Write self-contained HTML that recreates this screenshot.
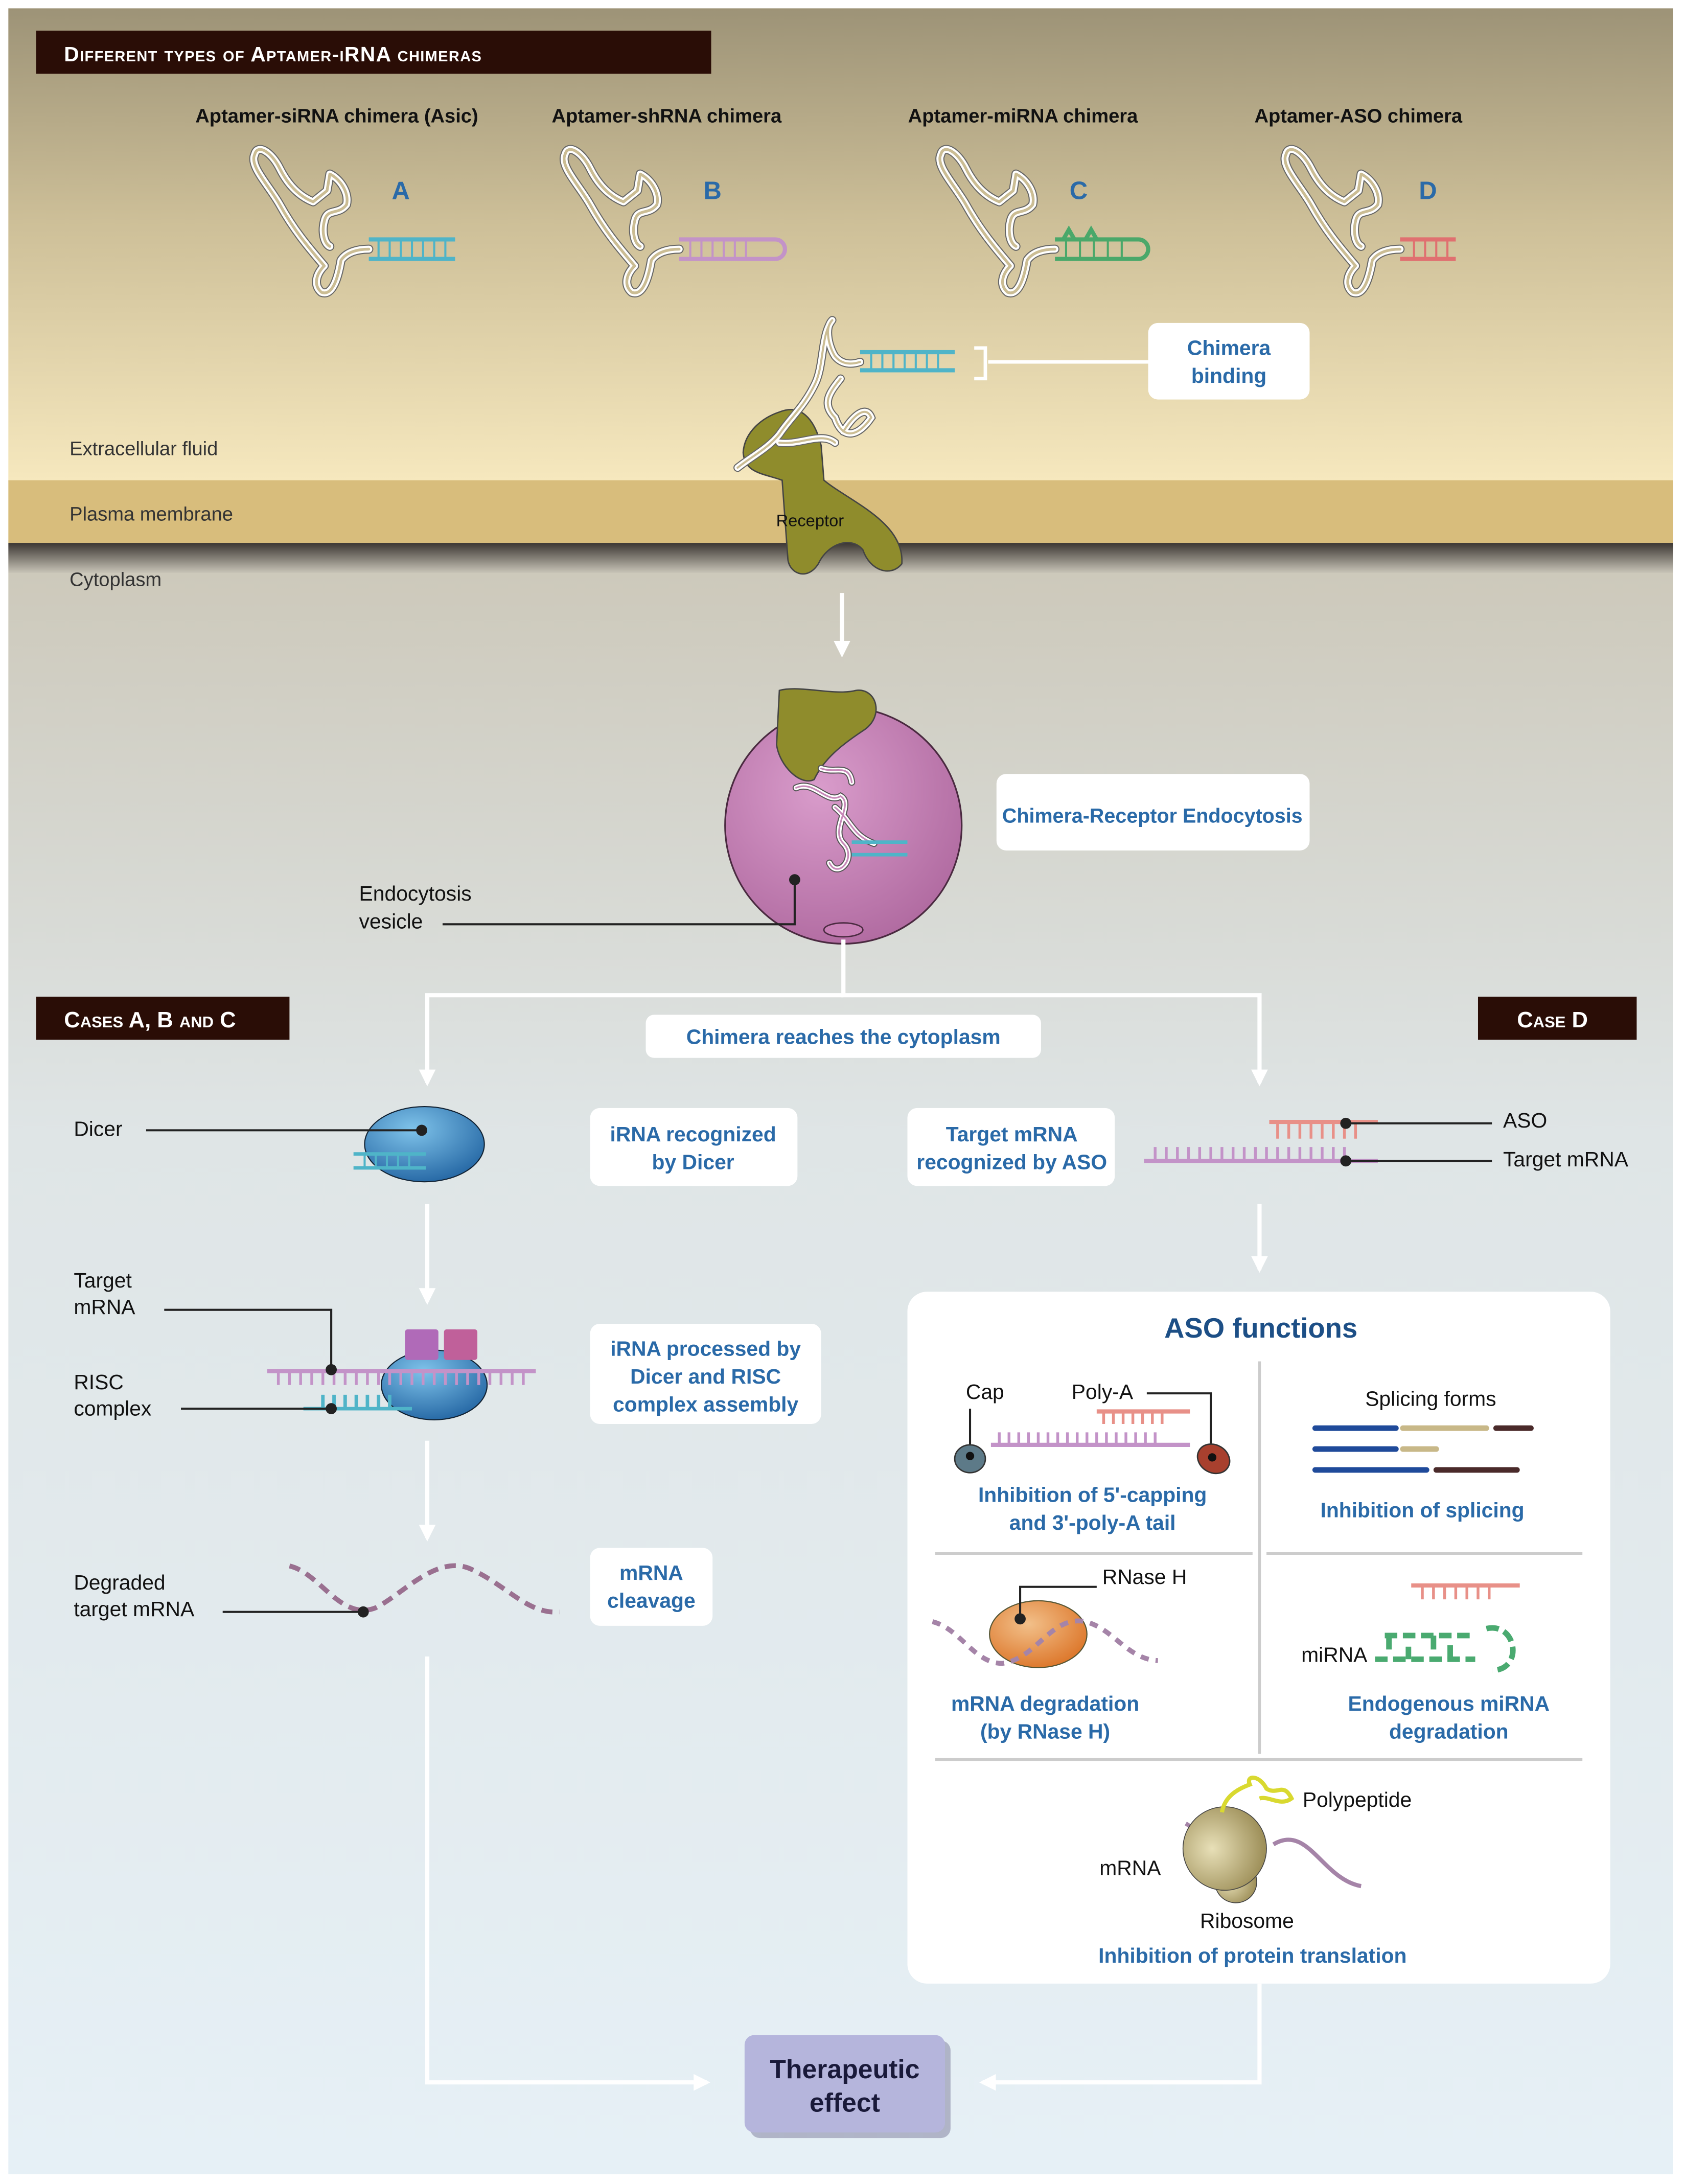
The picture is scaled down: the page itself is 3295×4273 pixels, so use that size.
<!DOCTYPE html>
<html><head><meta charset="utf-8"><style>
html,body{margin:0;padding:0;background:#fff}
svg{display:block}
text{font-family:"Liberation Sans",sans-serif}
.h{font-size:14px;font-weight:bold;fill:#111}
.l{font-size:15px;fill:#111}
.c{font-size:15px;fill:#2a6aa8;font-weight:bold}
.s{font-size:14px;fill:#333}
</style></head><body>
<svg width="3295" height="4273" viewBox="0 0 1210 1569" preserveAspectRatio="none" xmlns="http://www.w3.org/2000/svg">
<defs>
<linearGradient id="top" x1="0" y1="0" x2="0" y2="1"><stop offset="0" stop-color="#9d9377"/><stop offset="0.45" stop-color="#cdbf98"/><stop offset="1" stop-color="#f6e8be"/></linearGradient>
<linearGradient id="dk" x1="0" y1="0" x2="0" y2="1"><stop offset="0" stop-color="#3b3632"/><stop offset="1" stop-color="#cbc7ba"/></linearGradient>
<linearGradient id="cy" x1="0" y1="0" x2="0" y2="1"><stop offset="0" stop-color="#cdc9bb"/><stop offset="0.35" stop-color="#dfe5e6"/><stop offset="1" stop-color="#e6f0f6"/></linearGradient>
<radialGradient id="ves" cx="0.4" cy="0.35" r="0.7"><stop offset="0" stop-color="#d99ccb"/><stop offset="1" stop-color="#b06aa0"/></radialGradient>
<radialGradient id="blue" cx="0.4" cy="0.3" r="0.8"><stop offset="0" stop-color="#7fc3ea"/><stop offset="1" stop-color="#1d5f9e"/></radialGradient>
<radialGradient id="org" cx="0.4" cy="0.35" r="0.8"><stop offset="0" stop-color="#f2c08a"/><stop offset="1" stop-color="#d96a1a"/></radialGradient>
<radialGradient id="rib" cx="0.35" cy="0.5" r="0.8"><stop offset="0" stop-color="#e8e0b8"/><stop offset="1" stop-color="#8a7a40"/></radialGradient>
<marker id="ar" viewBox="0 0 10 10" refX="8" refY="5" markerWidth="4" markerHeight="4" orient="auto"><path d="M0 0L10 5L0 10z" fill="#fff"/></marker>
<path id="ap" d="M0 4 C2 -4 12 2 18 14 C24 26 32 34 42 38 L52 30 L54 18 C62 22 68 32 66 40 C60 48 52 42 50 52 C48 60 50 68 54 70 M0 4 C-4 12 10 26 18 40 C28 58 38 70 50 84 C44 90 42 98 48 103 C56 106 60 92 62 80 C66 74 74 72 82 72"/>
<path id="ch" d="M598 230C592 236 596 250 600 256C605 262 612 262 618 260M598 230C590 240 592 262 586 275C578 292 568 300 560 312C552 322 540 328 530 336M604 272C596 282 590 290 600 300C606 318 618 312 626 300C622 290 612 300 606 310M560 318C575 320 590 310 600 318"/>
<path id="vc" d="M572 566C585 560 594 578 604 572C614 578 596 596 606 606C616 616 602 632 596 620M600 580C612 590 612 600 628 606M590 552C600 556 610 548 612 562"/>
<g id="apt" fill="none" stroke-linecap="round" stroke-linejoin="round">
<use href="#ap" stroke="#666" stroke-width="6.5"/>
<use href="#ap" stroke="#fff" stroke-width="5"/>
<use href="#ap" stroke="#cbbd94" stroke-width="2"/>
</g>
</defs>
<rect width="1210" height="1569" fill="#fff"/>
<rect x="6" y="6" width="1196" height="340" fill="url(#top)"/>
<rect x="6" y="345" width="1196" height="45" fill="#d8bd7c"/>
<rect x="6" y="390" width="1196" height="22" fill="url(#dk)"/>
<rect x="6" y="412" width="1196" height="1150" fill="url(#cy)"/>

<rect x="26" y="22" width="485" height="31" fill="#2a0d06"/>
<text x="46" y="44" fill="#fff" font-size="15" font-weight="bold" style="font-variant:small-caps;letter-spacing:0.5px">Different types of Aptamer-iRNA chimeras</text>

<text class="h" x="242" y="88" text-anchor="middle">Aptamer-siRNA chimera (Asic)</text>
<text class="h" x="479" y="88" text-anchor="middle">Aptamer-shRNA chimera</text>
<text class="h" x="735" y="88" text-anchor="middle">Aptamer-miRNA chimera</text>
<text class="h" x="976" y="88" text-anchor="middle">Aptamer-ASO chimera</text>

<use href="#apt" transform="translate(183,107)"/>
<use href="#apt" transform="translate(406,107)"/>
<use href="#apt" transform="translate(676,107)"/>
<use href="#apt" transform="translate(924,107)"/>
<text x="288" y="143" fill="#2a6aa8" font-size="18" font-weight="bold" text-anchor="middle">A</text>
<text x="512" y="143" fill="#2a6aa8" font-size="18" font-weight="bold" text-anchor="middle">B</text>
<text x="775" y="143" fill="#2a6aa8" font-size="18" font-weight="bold" text-anchor="middle">C</text>
<text x="1026" y="143" fill="#2a6aa8" font-size="18" font-weight="bold" text-anchor="middle">D</text>
<g stroke-width="3" fill="none">
<path d="M265 172H327M265 186H327" stroke="#4fb4c8"/>
<path d="M272 172V186M280 172V186M288 172V186M296 172V186M304 172V186M312 172V186M320 172V186" stroke="#4fb4c8" stroke-width="1.5"/>
<path d="M488 172H557M488 186H557M557 172A7 7 0 1 1 557 186" stroke="#c393c8"/>
<path d="M496 172V186M504 172V186M512 172V186M520 172V186M528 172V186M536 172V186" stroke="#c393c8" stroke-width="1.5"/>
<path d="M758 172H818M758 186H818M818 172A7 7 0 1 1 818 186M764 172L768 165L772 172M780 172L784 165L788 172" stroke="#4aa86a"/>
<path d="M766 172V186M776 172V186M786 172V186M796 172V186M806 172V186" stroke="#4aa86a" stroke-width="1.5"/>
<path d="M1006 172H1046M1006 186H1046" stroke="#e07070"/>
<path d="M1016 172V186M1024 172V186M1032 172V186M1040 172V186" stroke="#e07070" stroke-width="1.5"/>
<path d="M618 253H686M618 266H686" stroke="#4fb4c8"/>
<path d="M626 253V266M634 253V266M642 253V266M650 253V266M658 253V266M666 253V266M674 253V266" stroke="#4fb4c8" stroke-width="1.5"/>
</g>
<path d="M700 250H708V272H700M710 260H826" stroke="#fff" stroke-width="2.5" fill="none"/>
<rect x="825" y="232" width="116" height="55" rx="7" fill="#fff"/>
<text class="c" x="883" y="255" text-anchor="middle">Chimera</text>
<text class="c" x="883" y="275" text-anchor="middle">binding</text>

<!-- receptor -->
<path d="M560 296C575 290 585 300 590 320L592 345C610 360 650 375 648 405C640 415 625 410 620 395C612 385 595 390 588 405C580 418 566 412 566 400L562 345C548 340 535 340 534 325C535 310 548 300 560 296Z" fill="#8f8c2c" stroke="#444" stroke-width="1"/>
<g fill="none" stroke-linecap="round">
<use href="#ch" stroke="#666" stroke-width="6"/>
<use href="#ch" stroke="#fff" stroke-width="4.5"/>
<use href="#ch" stroke="#cbbd94" stroke-width="1.5"/>
</g>
<text x="582" y="378" font-size="12" fill="#111" text-anchor="middle">Receptor</text>
<text class="s" x="50" y="327">Extracellular fluid</text>
<text class="s" x="50" y="374">Plasma membrane</text>
<text class="s" x="50" y="421">Cytoplasm</text>

<line x1="605" y1="426" x2="605" y2="470" stroke="#fff" stroke-width="3" marker-end="url(#ar)"/>

<!-- vesicle -->
<circle cx="606" cy="593" r="85" fill="url(#ves)" stroke="#4a2a40" stroke-width="1.2"/>
<path d="M560 496C575 492 600 500 615 496C630 494 636 515 620 525C605 535 592 545 585 560C575 565 560 550 558 535Z" fill="#8f8c2c" stroke="#444"/>
<g fill="none" stroke-linecap="round">
<use href="#vc" stroke="#555" stroke-width="5"/>
<use href="#vc" stroke="#fff" stroke-width="3.5"/>
<use href="#vc" stroke="#c788b8" stroke-width="1.2"/>
</g>
<path d="M612 605H652M612 614H652" stroke="#4fb4c8" stroke-width="2.5"/>
<ellipse cx="606" cy="668" rx="14" ry="5" fill="#c77fb5" stroke="#4a2a40"/>
<circle cx="571" cy="632" r="4" fill="#222"/>
<path d="M571 632V664H318" stroke="#222" stroke-width="1.5" fill="none"/>
<text class="l" x="258" y="647">Endocytosis</text>
<text class="l" x="258" y="667">vesicle</text>
<rect x="716" y="556" width="225" height="55" rx="7" fill="#fff"/>
<text x="828" y="591" text-anchor="middle" font-size="14.5" font-weight="bold" fill="#2a6aa8">Chimera-Receptor Endocytosis</text>

<!-- branch lines -->
<path d="M606 675V715H905V778" stroke="#fff" stroke-width="3" fill="none" marker-end="url(#ar)"/>
<path d="M606 715H307V778" stroke="#fff" stroke-width="3" fill="none" marker-end="url(#ar)"/>
<rect x="26" y="716" width="182" height="31" fill="#2a0d06"/>
<text x="46" y="738" fill="#fff" font-size="16" font-weight="bold" style="font-variant:small-caps">Cases A, B and C</text>
<rect x="1062" y="716" width="114" height="31" fill="#2a0d06"/>
<text x="1090" y="738" fill="#fff" font-size="16" font-weight="bold" style="font-variant:small-caps">Case D</text>
<rect x="464" y="729" width="284" height="31" rx="6" fill="#fff"/>
<text class="c" x="606" y="750" text-anchor="middle">Chimera reaches the cytoplasm</text>

<!-- Dicer -->
<ellipse cx="305" cy="822" rx="43" ry="27" fill="url(#blue)" stroke="#123" stroke-width="0.8"/>
<path d="M254 829H306M254 839H306" stroke="#4fb4c8" stroke-width="2.5"/>
<path d="M262 829V839M270 829V839M278 829V839M286 829V839M294 829V839" stroke="#4fb4c8" stroke-width="1.5"/>
<circle cx="303" cy="812" r="4" fill="#222"/>
<line x1="105" y1="812" x2="303" y2="812" stroke="#222" stroke-width="1.5"/>
<text class="l" x="53" y="816">Dicer</text>
<rect x="424" y="796" width="149" height="56" rx="7" fill="#fff"/>
<text class="c" x="498" y="820" text-anchor="middle">iRNA recognized</text>
<text class="c" x="498" y="840" text-anchor="middle">by Dicer</text>

<line x1="307" y1="865" x2="307" y2="935" stroke="#fff" stroke-width="3" marker-end="url(#ar)"/>
<!-- RISC -->
<ellipse cx="312" cy="995" rx="38" ry="25" fill="url(#blue)" stroke="#123" stroke-width="0.8"/>
<rect x="291" y="955" width="24" height="22" rx="2" fill="#b06ab8"/>
<rect x="319" y="955" width="24" height="22" rx="2" fill="#c0609a"/>
<path d="M192 985H385" stroke="#c393c8" stroke-width="3"/>
<path d="M200 985v10M208 985v10M216 985v10M224 985v10M232 985v10M240 985v10M248 985v10M256 985v10M264 985v10M272 985v10M280 985v10M288 985v10M296 985v10M304 985v10M312 985v10M320 985v10M328 985v10M336 985v10M344 985v10M352 985v10M360 985v10M368 985v10M376 985v10" stroke="#c393c8" stroke-width="2"/>
<path d="M218 1012H296M232 1002v10M240 1002v10M248 1002v10M256 1002v10M264 1002v10M272 1002v10M280 1002v10" stroke="#4fb4c8" stroke-width="2.5"/>
<circle cx="238" cy="984" r="4" fill="#222"/><circle cx="238" cy="1012" r="4" fill="#222"/>
<path d="M118 941H238V984M130 1012H238" stroke="#222" stroke-width="1.5" fill="none"/>
<text class="l" x="53" y="925">Target</text><text class="l" x="53" y="944">mRNA</text>
<text class="l" x="53" y="998">RISC</text><text class="l" x="53" y="1017">complex</text>
<rect x="424" y="951" width="166" height="72" rx="7" fill="#fff"/>
<text class="c" x="507" y="974" text-anchor="middle">iRNA processed by</text>
<text class="c" x="507" y="994" text-anchor="middle">Dicer and RISC</text>
<text class="c" x="507" y="1014" text-anchor="middle">complex assembly</text>

<line x1="307" y1="1035" x2="307" y2="1105" stroke="#fff" stroke-width="3" marker-end="url(#ar)"/>
<path d="M208 1125C230 1130 245 1165 270 1155C290 1145 315 1115 340 1128C365 1140 380 1160 402 1158" stroke="#9a7090" stroke-width="3.5" stroke-dasharray="8 5" fill="none"/>
<circle cx="261" cy="1158" r="4" fill="#222"/>
<line x1="160" y1="1158" x2="261" y2="1158" stroke="#222" stroke-width="1.5"/>
<text class="l" x="53" y="1142">Degraded</text><text class="l" x="53" y="1161">target mRNA</text>
<rect x="424" y="1112" width="88" height="56" rx="7" fill="#fff"/>
<text class="c" x="468" y="1135" text-anchor="middle">mRNA</text>
<text class="c" x="468" y="1155" text-anchor="middle">cleavage</text>

<!-- Case D -->
<rect x="652" y="796" width="149" height="56" rx="7" fill="#fff"/>
<text class="c" x="727" y="820" text-anchor="middle">Target mRNA</text>
<text class="c" x="727" y="840" text-anchor="middle">recognized by ASO</text>
<path d="M912 806H990" stroke="#e89088" stroke-width="3"/>
<path d="M918 806v12M926 806v12M934 806v12M942 806v12M950 806v12M958 806v12M966 806v12M974 806v12" stroke="#e89088" stroke-width="2"/>
<path d="M822 834H990" stroke="#c393c8" stroke-width="3"/>
<path d="M830 834v-10M838 834v-10M846 834v-10M854 834v-10M862 834v-10M870 834v-10M878 834v-10M886 834v-10M894 834v-10M902 834v-10M910 834v-10M918 834v-10M926 834v-10M934 834v-10M942 834v-10M950 834v-10M958 834v-10M966 834v-10" stroke="#c393c8" stroke-width="2"/>
<circle cx="967" cy="807" r="4" fill="#222"/><circle cx="967" cy="834" r="4" fill="#222"/>
<path d="M967 807H1072M967 834H1072" stroke="#222" stroke-width="1.5"/>
<text class="l" x="1080" y="810">ASO</text><text class="l" x="1080" y="838">Target mRNA</text>
<line x1="905" y1="865" x2="905" y2="912" stroke="#fff" stroke-width="3" marker-end="url(#ar)"/>

<rect x="652" y="928" width="505" height="497" rx="14" fill="#fff"/>
<text x="906" y="961" fill="#1d4f86" font-size="20" font-weight="bold" text-anchor="middle">ASO functions</text>
<line x1="905" y1="978" x2="905" y2="1260" stroke="#ccc" stroke-width="2"/>
<line x1="672" y1="1116" x2="900" y2="1116" stroke="#ccc" stroke-width="2"/>
<line x1="910" y1="1116" x2="1137" y2="1116" stroke="#ccc" stroke-width="2"/>
<line x1="672" y1="1264" x2="1137" y2="1264" stroke="#ccc" stroke-width="2"/>
<!-- cap -->
<text class="l" x="694" y="1005">Cap</text><text class="l" x="770" y="1005">Poly-A</text>
<path d="M697 1012V1045M824 1001H870V1040" stroke="#222" stroke-width="1.5" fill="none"/>
<path d="M788 1014H855" stroke="#e89088" stroke-width="3"/>
<path d="M793 1014v9M800 1014v9M807 1014v9M814 1014v9M821 1014v9M828 1014v9M835 1014v9" stroke="#e89088" stroke-width="2"/>
<path d="M712 1038H855" stroke="#c393c8" stroke-width="3"/>
<path d="M718 1038v-9M725 1038v-9M732 1038v-9M739 1038v-9M746 1038v-9M753 1038v-9M760 1038v-9M767 1038v-9M774 1038v-9M781 1038v-9M788 1038v-9M795 1038v-9M802 1038v-9M809 1038v-9M816 1038v-9M823 1038v-9M830 1038v-9" stroke="#c393c8" stroke-width="2"/>
<ellipse cx="697" cy="1048" rx="11" ry="10" fill="#5d7a88" stroke="#333"/>
<ellipse cx="872" cy="1048" rx="12" ry="10" fill="#a8402e" stroke="#333" transform="rotate(30 872 1048)"/>
<circle cx="697" cy="1046" r="3" fill="#111"/><circle cx="871" cy="1047" r="3" fill="#111"/>
<text class="c" x="785" y="1079" text-anchor="middle">Inhibition of 5'-capping</text>
<text class="c" x="785" y="1099" text-anchor="middle">and 3'-poly-A tail</text>
<!-- splicing -->
<text class="l" x="1028" y="1010" text-anchor="middle">Splicing forms</text>
<g stroke-width="4" stroke-linecap="round">
<path d="M945 1026H1003" stroke="#1f4a9a"/><path d="M1008 1026H1068" stroke="#c8b888"/><path d="M1075 1026H1100" stroke="#4a2a2a"/>
<path d="M945 1041H1003" stroke="#1f4a9a"/><path d="M1008 1041H1032" stroke="#c8b888"/>
<path d="M945 1056H1025" stroke="#1f4a9a"/><path d="M1032 1056H1090" stroke="#4a2a2a"/>
</g>
<text class="c" x="1022" y="1090" text-anchor="middle">Inhibition of splicing</text>
<!-- RNase H -->
<ellipse cx="746" cy="1174" rx="35" ry="24" fill="url(#org)" stroke="#553" stroke-width="0.8"/>
<path d="M670 1165C690 1170 700 1195 720 1195C745 1192 755 1160 780 1165C800 1170 810 1192 832 1193" stroke="#a584a8" stroke-width="3.5" stroke-dasharray="6 5" fill="none"/>
<circle cx="733" cy="1163" r="4" fill="#222"/>
<path d="M733 1163V1140H788" stroke="#222" stroke-width="1.5" fill="none"/>
<text class="l" x="792" y="1138">RNase H</text>
<text class="c" x="751" y="1229" text-anchor="middle">mRNA degradation</text>
<text class="c" x="751" y="1249" text-anchor="middle">(by RNase H)</text>
<!-- miRNA -->
<path d="M1014 1139H1092" stroke="#e89088" stroke-width="3"/>
<path d="M1022 1139v10M1030 1139v10M1038 1139v10M1046 1139v10M1054 1139v10M1062 1139v10M1070 1139v10" stroke="#e89088" stroke-width="2"/>
<path d="M988 1192H1060M995 1175H1060M1068 1170C1090 1165 1095 1200 1072 1200" stroke="#4aaa70" stroke-width="4" stroke-dasharray="9 4" fill="none"/>
<path d="M998 1175v10M1012 1183v9M1030 1175v10M1042 1182v10" stroke="#4aaa70" stroke-width="4"/>
<text class="l" x="935" y="1194">miRNA</text>
<text class="c" x="1041" y="1229" text-anchor="middle">Endogenous miRNA</text>
<text class="c" x="1041" y="1249" text-anchor="middle">degradation</text>
<!-- ribosome -->
<path d="M852 1310C870 1320 870 1355 890 1350M915 1325C940 1310 950 1350 978 1355" stroke="#a584a8" stroke-width="3" fill="none"/>
<circle cx="888" cy="1352" r="15" fill="url(#rib)" stroke="#444" stroke-width="0.6"/>
<ellipse cx="880" cy="1328" rx="30" ry="30" fill="url(#rib)" stroke="#444" stroke-width="0.6"/>
<path d="M878 1302C880 1290 890 1285 898 1282C895 1275 905 1275 910 1285C918 1290 922 1280 928 1292C920 1298 912 1290 905 1292" stroke="#d9d930" stroke-width="3" fill="none"/>
<text class="l" x="936" y="1298">Polypeptide</text>
<text class="l" x="790" y="1347">mRNA</text>
<text class="l" x="896" y="1385" text-anchor="middle">Ribosome</text>
<text class="c" x="900" y="1410" text-anchor="middle">Inhibition of protein translation</text>

<!-- final -->
<path d="M307 1190V1496H508" stroke="#fff" stroke-width="3" fill="none" marker-end="url(#ar)"/>
<path d="M905 1425V1496H706" stroke="#fff" stroke-width="3" fill="none" marker-end="url(#ar)"/>
<rect x="539" y="1466" width="144" height="70" rx="7" fill="#7a7a99" opacity="0.5"/>
<rect x="535" y="1462" width="144" height="70" rx="7" fill="#b5b5dc"/>
<text x="607" y="1493" font-size="19" font-weight="bold" fill="#1a1a3a" text-anchor="middle">Therapeutic</text>
<text x="607" y="1517" font-size="19" font-weight="bold" fill="#1a1a3a" text-anchor="middle">effect</text>
</svg>
</body></html>
